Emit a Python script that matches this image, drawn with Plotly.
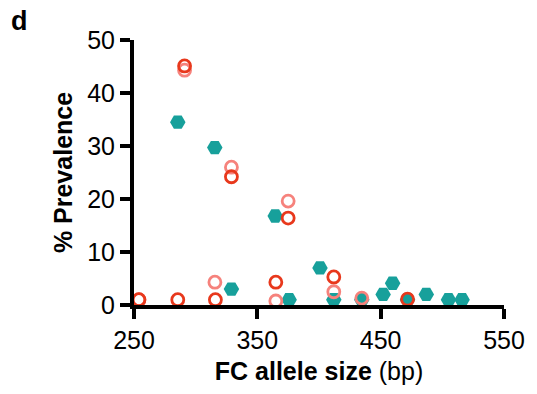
import plotly.graph_objects as go

# Teal filled hexagons
teal_x = [285.5, 315.5, 329, 364.5, 375.8, 400.8, 412, 434.7, 452, 459.7, 471.8, 487, 505, 516]
teal_y = [34.5, 29.7, 3.0, 16.8, 1.0, 7.0, 1.0, 1.0, 2.0, 4.1, 1.0, 2.0, 1.0, 1.0]

# Light red (salmon) open circles
salmon_x = [254, 291, 315.6, 329, 375, 365, 412, 434.7]
salmon_y = [1.0, 44.3, 4.3, 26.0, 19.6, 0.75, 2.5, 1.3]

# Dark red open circles
red_x = [254, 291, 285.5, 316, 329, 375, 365, 412, 471.8]
red_y = [1.0, 45.1, 1.0, 1.0, 24.2, 16.4, 4.3, 5.3, 1.1]

x_ticks = [250, 350, 450, 550]
y_ticks = [0, 10, 20, 30, 40, 50]

TEAL = "#17a09b"
SALMON = "#f6827c"
RED = "#e8381c"

fig = go.Figure()
fig.add_trace(go.Scatter(x=teal_x, y=teal_y, mode="markers",
                         marker=dict(symbol="hexagon2", size=15.5, color=TEAL, line=dict(width=0)),
                         cliponaxis=False, showlegend=False))
fig.add_trace(go.Scatter(x=salmon_x, y=salmon_y, mode="markers",
                         marker=dict(symbol="circle-open", size=12, color=SALMON, line=dict(width=2.8, color=SALMON)),
                         cliponaxis=False, showlegend=False))
fig.add_trace(go.Scatter(x=red_x, y=red_y, mode="markers",
                         marker=dict(symbol="circle-open", size=12, color=RED, line=dict(width=2.8, color=RED)),
                         cliponaxis=False, showlegend=False))

font_family = "Arial, Liberation Sans, sans-serif"

fig.update_layout(
    width=537, height=394,
    margin=dict(l=134, r=31, t=40, b=89),
    plot_bgcolor="white", paper_bgcolor="white",
    font=dict(family=font_family, color="black"),
    xaxis=dict(
        range=[250, 550], tickvals=x_ticks, ticktext=[str(v) for v in x_ticks],
        showgrid=False, zeroline=False, showline=True, linecolor="black", linewidth=4,
        ticks="outside", ticklen=10, tickwidth=4, tickcolor="black",
        tickfont=dict(size=25, family=font_family, color="black"),
        title=dict(text="<b>FC allele size</b> (bp)", font=dict(size=25, family=font_family, color="black"), standoff=10),
    ),
    yaxis=dict(
        range=[0, 50], tickvals=y_ticks, ticktext=[str(v) for v in y_ticks],
        showgrid=False, zeroline=False, showline=True, linecolor="black", linewidth=4,
        ticks="outside", ticklen=10, tickwidth=4, tickcolor="black",
        tickfont=dict(size=25, family=font_family, color="black"),
        title=dict(text="<b>% Prevalence</b>", font=dict(size=25, family=font_family, color="black"), standoff=8),
    ),
    annotations=[dict(text="<b>d</b>", xref="paper", yref="paper",
                      x=(8 - 134) / 372, y=(305 - 4) / 265, xanchor="left", yanchor="top",
                      showarrow=False, font=dict(size=27, family=font_family, color="black"))],
)

fig.write_html("out.html")
